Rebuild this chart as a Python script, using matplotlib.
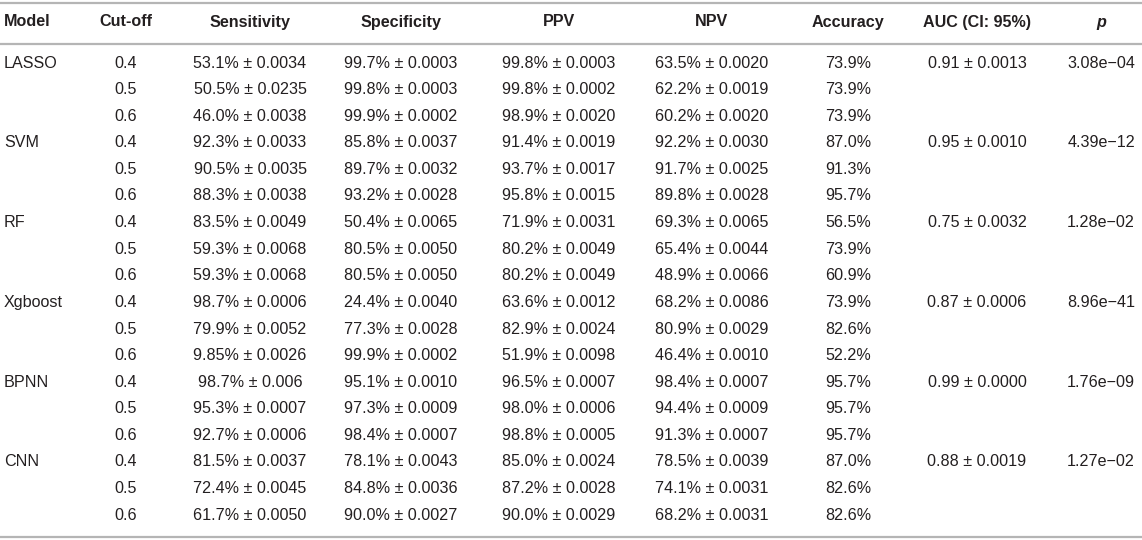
import matplotlib
matplotlib.use("Agg")
import matplotlib.pyplot as plt

plt.rcParams['font.family'] = ['Liberation Sans', 'DejaVu Sans']

headers = ["Model", "Cut-off", "Sensitivity", "Specificity", "PPV", "NPV",
           "Accuracy", "AUC (CI: 95%)", "p"]
models = ["LASSO", "SVM", "RF", "Xgboost", "BPNN", "CNN"]
cutoffs = ["0.4", "0.5", "0.6"]

sensitivity = ["53.1% ± 0.0034", "50.5% ± 0.0235", "46.0% ± 0.0038",
               "92.3% ± 0.0033", "90.5% ± 0.0035", "88.3% ± 0.0038",
               "83.5% ± 0.0049", "59.3% ± 0.0068", "59.3% ± 0.0068",
               "98.7% ± 0.0006", "79.9% ± 0.0052", "9.85% ± 0.0026",
               "98.7% ± 0.006", "95.3% ± 0.0007", "92.7% ± 0.0006",
               "81.5% ± 0.0037", "72.4% ± 0.0045", "61.7% ± 0.0050"]
specificity = ["99.7% ± 0.0003", "99.8% ± 0.0003", "99.9% ± 0.0002",
               "85.8% ± 0.0037", "89.7% ± 0.0032", "93.2% ± 0.0028",
               "50.4% ± 0.0065", "80.5% ± 0.0050", "80.5% ± 0.0050",
               "24.4% ± 0.0040", "77.3% ± 0.0028", "99.9% ± 0.0002",
               "95.1% ± 0.0010", "97.3% ± 0.0009", "98.4% ± 0.0007",
               "78.1% ± 0.0043", "84.8% ± 0.0036", "90.0% ± 0.0027"]
ppv = ["99.8% ± 0.0003", "99.8% ± 0.0002", "98.9% ± 0.0020",
       "91.4% ± 0.0019", "93.7% ± 0.0017", "95.8% ± 0.0015",
       "71.9% ± 0.0031", "80.2% ± 0.0049", "80.2% ± 0.0049",
       "63.6% ± 0.0012", "82.9% ± 0.0024", "51.9% ± 0.0098",
       "96.5% ± 0.0007", "98.0% ± 0.0006", "98.8% ± 0.0005",
       "85.0% ± 0.0024", "87.2% ± 0.0028", "90.0% ± 0.0029"]
npv = ["63.5% ± 0.0020", "62.2% ± 0.0019", "60.2% ± 0.0020",
       "92.2% ± 0.0030", "91.7% ± 0.0025", "89.8% ± 0.0028",
       "69.3% ± 0.0065", "65.4% ± 0.0044", "48.9% ± 0.0066",
       "68.2% ± 0.0086", "80.9% ± 0.0029", "46.4% ± 0.0010",
       "98.4% ± 0.0007", "94.4% ± 0.0009", "91.3% ± 0.0007",
       "78.5% ± 0.0039", "74.1% ± 0.0031", "68.2% ± 0.0031"]
accuracy = ["73.9%", "73.9%", "73.9%",
            "87.0%", "91.3%", "95.7%",
            "56.5%", "73.9%", "60.9%",
            "73.9%", "82.6%", "52.2%",
            "95.7%", "95.7%", "95.7%",
            "87.0%", "82.6%", "82.6%"]
auc = ["0.91 ± 0.0013", "0.95 ± 0.0010", "0.75 ± 0.0032",
       "0.87 ± 0.0006", "0.99 ± 0.0000", "0.88 ± 0.0019"]
pvals = ["3.08e\u221204", "4.39e\u221212", "1.28e\u221202",
         "8.96e\u221241", "1.76e\u221209", "1.27e\u221202"]

W, H = 1142, 540
fig = plt.figure(figsize=(W / 100, H / 100), dpi=100)
ax = fig.add_axes([0, 0, 1, 1])
ax.set_xlim(0, W)
ax.set_ylim(H, 0)
ax.axis("off")

fs = 11.6
col = "#231f20"
line_col = "#b5b5b5"
col_x = [4, 126, 250, 401, 559, 712, 848, 977, 1101]

y_head = 22
y0 = 63
dy = 26.6

ax.axhline(3, color=line_col, lw=1.6)
ax.axhline(43.5, color=line_col, lw=1.6)
ax.axhline(537, color=line_col, lw=1.6)

for i, h in enumerate(headers):
    ha = "left" if i == 0 else "center"
    style = "italic" if h == "p" else "normal"
    ax.text(col_x[i], y_head, h, ha=ha, va="center", fontsize=fs,
            fontweight="bold", fontstyle=style, color=col)

columns = [sensitivity, specificity, ppv, npv, accuracy]
for m, model in enumerate(models):
    for c, cut in enumerate(cutoffs):
        r = m * 3 + c
        y = y0 + r * dy
        if c == 0:
            ax.text(col_x[0], y, model, ha="left", va="center", fontsize=fs, color=col)
            ax.text(col_x[7], y, auc[m], ha="center", va="center", fontsize=fs, color=col)
            ax.text(col_x[8], y, pvals[m], ha="center", va="center", fontsize=fs, color=col)
        ax.text(col_x[1], y, cut, ha="center", va="center", fontsize=fs, color=col)
        for k, data in enumerate(columns):
            ax.text(col_x[2 + k], y, data[r], ha="center", va="center", fontsize=fs, color=col)

fig.savefig("out.png", dpi=100)
